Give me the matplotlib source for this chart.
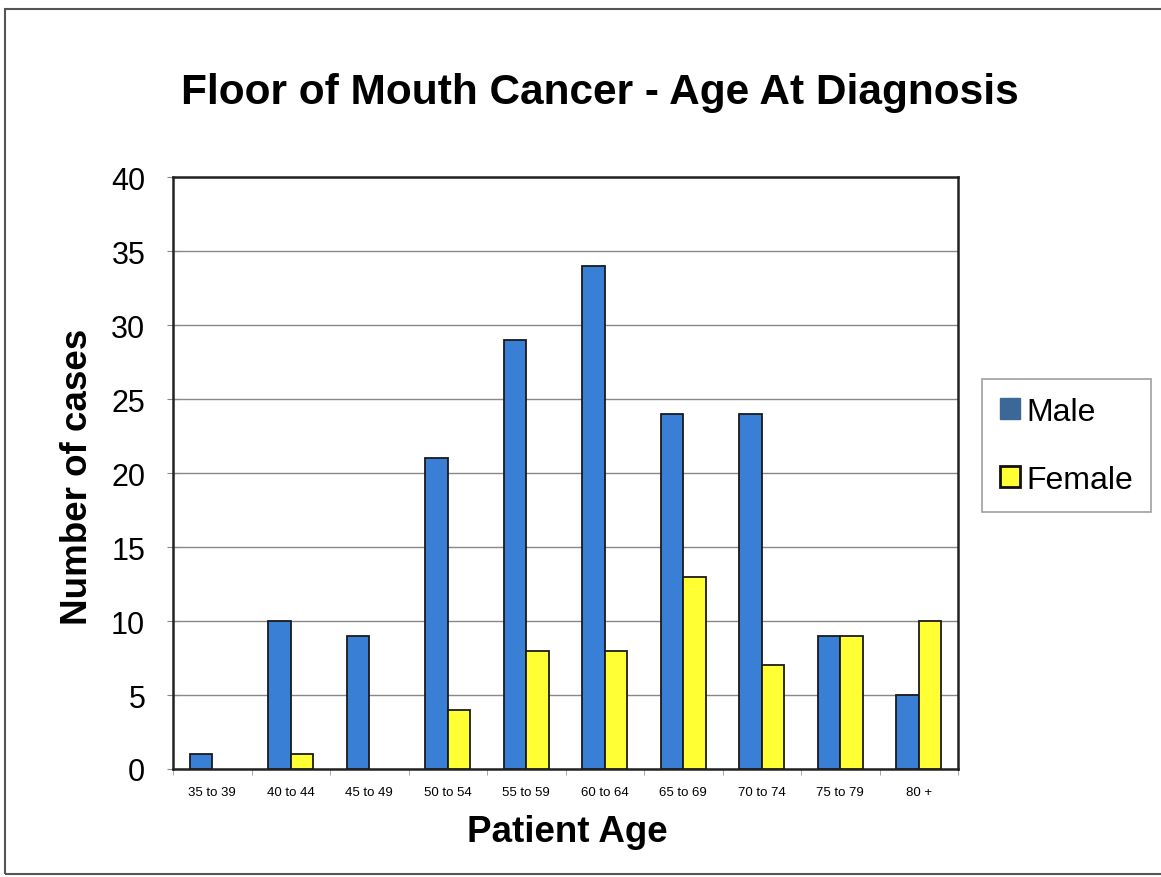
import matplotlib
matplotlib.use("Agg")
import matplotlib.pyplot as plt
import numpy as np
from matplotlib.patches import Patch, Rectangle

categories = ["35 to 39", "40 to 44", "45 to 49", "50 to 54", "55 to 59",
              "60 to 64", "65 to 69", "70 to 74", "75 to 79", "80 +"]
male = [1, 10, 9, 21, 29, 34, 24, 24, 9, 5]
female = [0, 1, 0, 4, 8, 8, 13, 7, 9, 10]
yticks = [0, 5, 10, 15, 20, 25, 30, 35, 40]

plt.rcParams['font.family'] = ['Liberation Sans', 'DejaVu Sans']

W, H = 1161, 878
fig = plt.figure(figsize=(W / 100, H / 100), dpi=100)

# outer chart frame
fig.patches.append(Rectangle((5 / W, 3 / H), (W + 10) / W, (H - 13) / H,
                             transform=fig.transFigure, fill=False,
                             edgecolor='#555555', linewidth=1.5))

ax = fig.add_axes([173 / W, 1 - 770 / H, (958 - 173) / W, (770 - 178) / H])
x = np.arange(len(categories))
bw = 0.286
mb = ax.bar(x - bw / 2, male, bw, color='#3a7fd6', edgecolor='#1a1a1a', linewidth=1.3, zorder=3)
fb = ax.bar(x + bw / 2, female, bw, color='#ffff33', edgecolor='#1a1a1a', linewidth=1.3, zorder=3)
for bars, vals in ((mb, male), (fb, female)):
    for b, v in zip(bars, vals):
        if v == 0:
            b.set_visible(False)

ax.set_xlim(-0.5, len(categories) - 0.5)
ax.set_ylim(0, 40)
ax.set_yticks(yticks)
ax.set_yticklabels([str(v) for v in yticks], fontsize=22)
ax.set_xticks(x)
ax.set_xticklabels(categories, fontsize=9.5)
ax.set_xticks(np.arange(len(categories) + 1) - 0.5, minor=True)
ax.tick_params(axis='x', which='major', length=0, pad=12)
ax.tick_params(axis='x', which='minor', length=4, color='#999999', direction='out')
ax.tick_params(axis='y', length=8, direction='inout', color='#888888', pad=16)
ax.grid(axis='y', color='#888888', linewidth=1, zorder=0)
for s in ax.spines.values():
    s.set_linewidth(1.8)
    s.set_color('#222222')

fig.text(600 / W, 1 - 93 / H, "Floor of Mouth Cancer - Age At Diagnosis",
         fontsize=30.5, fontweight='bold', ha='center', va='center')
fig.text(78 / W, 1 - 477 / H, "Number of cases", fontsize=26.5, fontweight='bold',
         rotation=90, ha='center', va='center')
fig.text(567 / W, 1 - 833 / H, "Patient Age", fontsize=26.5, fontweight='bold',
         ha='center', va='center')

handles = [Patch(facecolor='#3b6896', edgecolor='#3b6896', label='Male'),
           Patch(facecolor='#ffff33', edgecolor='#111111', linewidth=2, label='Female')]
leg = fig.legend(handles=handles, loc='upper left',
                 bbox_to_anchor=(982 / W, 1 - 380 / H), fontsize=23,
                 frameon=True, fancybox=False, edgecolor='#888888',
                 handlelength=0.65, handleheight=0.65, handletextpad=0.2,
                 labelspacing=1.2, borderpad=0.55, borderaxespad=0)
leg.get_frame().set_linewidth(1.2)

fig.savefig("out.png", dpi=100)
